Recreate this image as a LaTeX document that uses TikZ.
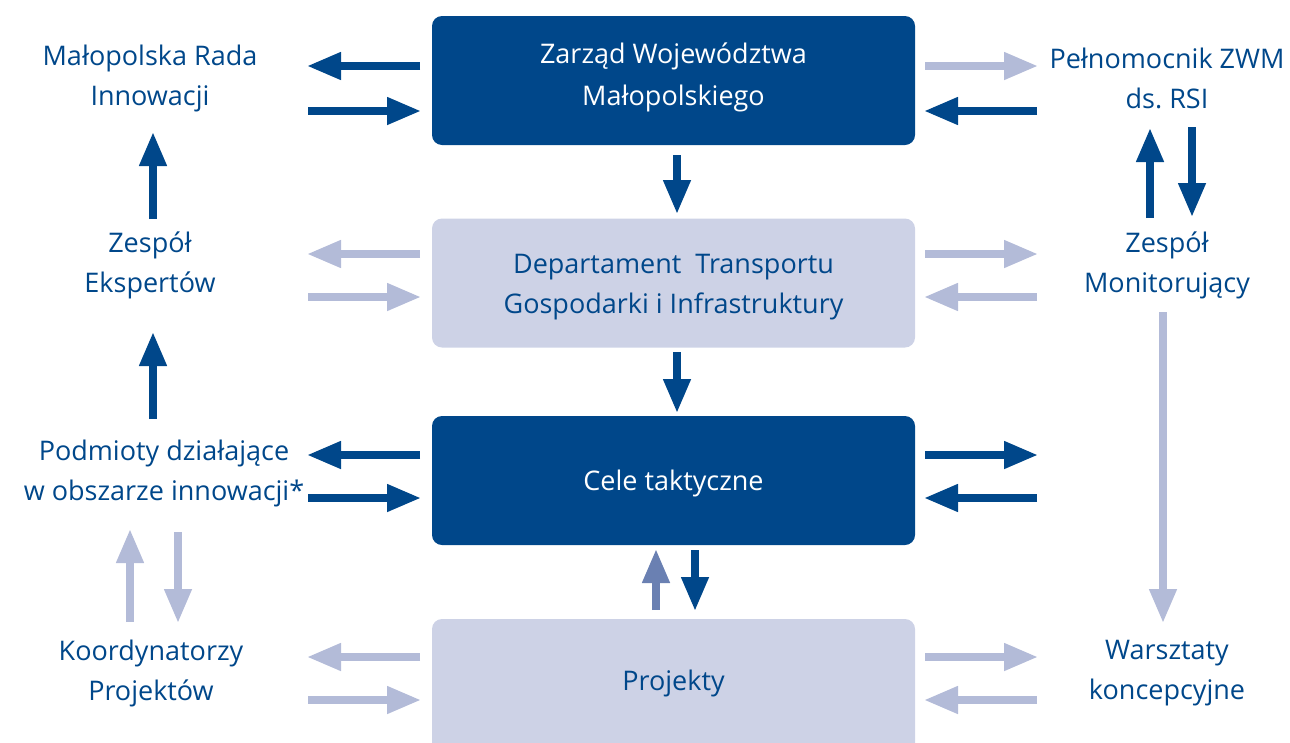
\documentclass[tikz,border=0pt]{standalone}
\usepackage{fontspec}
\setmainfont{Open Sans}
\frenchspacing
\usetikzlibrary{arrows.meta}
\definecolor{dblue}{HTML}{00478A}
\definecolor{lblue}{HTML}{B3BBD8}
\definecolor{lbox}{HTML}{CDD2E6}
\definecolor{mblue}{HTML}{6A80B2}
\begin{document}
\begin{tikzpicture}[x=1pt,y=-1pt,
  box/.style={rounded corners=10pt, minimum width=483pt, minimum height=129pt, inner sep=0pt},
  darkbox/.style={box, fill=dblue},
  lightbox/.style={box, fill=lbox},
  txt/.style={align=center, font=\fontsize{27}{40}\selectfont},
  wtxt/.style={txt, text=white},
  lbl/.style={txt, text=dblue},
  arr/.style={line width=7.5pt, -{Triangle[length=34pt,width=26pt]}, shorten >=-1pt},
  da/.style={arr, draw=dblue},
  la/.style={arr, draw=lblue},
  ma/.style={arr, draw=mblue}]
\useasboundingbox (0,0) rectangle (1290,742);
\clip (0,0) rectangle (1290,742);
% boxes
\node[darkbox] (zarz) at (673.5,80.5) {};
\node[wtxt, font=\fontsize{27}{42}\selectfont] (zarzt) at (673.5,77) {Zarząd Województwa\\Małopolskiego};
\node[lightbox] (dep) at (673.5,283) {};
\node[lbl] (dept) at (673.5,287) {Departament\ \ Transportu\\Gospodarki i Infrastruktury};
\node[darkbox] (cele) at (673.5,480.5) {};
\node[wtxt] (celet) at (673.5,483) {Cele taktyczne};
\node[lightbox, minimum height=140pt] (proj) at (673.5,689) {};
\node[lbl] (projt) at (673.5,683) {Projekty};
% labels
\node[lbl] (mri) at (150,78) {Małopolska Rada\\Innowacji};
\node[lbl] (ze) at (150,265) {Zespół\\Ekspertów};
\node[lbl] (pod) at (164,473) {Podmioty działające\\w obszarze innowacji*};
\node[lbl] (kp) at (151,673) {Koordynatorzy\\Projektów};
\node[lbl] (pel) at (1167,78) {Pełnomocnik ZWM\\ds. RSI};
\node[lbl] (zm) at (1167,265) {Zespół\\Monitorujący};
\node[lbl] (wk) at (1167,673) {Warsztaty\\koncepcyjne};
% coordinates for arrow ends
\foreach \n/\y in {a/66,b/111,c/254,d/297,e/455,f/498,g/657,h/700}{
  \coordinate (L1\n) at (308,\y);
  \coordinate (L2\n) at (420,\y);
  \coordinate (R1\n) at (925,\y);
  \coordinate (R2\n) at (1037,\y);
}
% left horizontal
\draw[da] (L2a) -- (L1a);
\draw[da] (L1b) -- (L2b);
\draw[la] (L2c) -- (L1c);
\draw[la] (L1d) -- (L2d);
\draw[da] (L2e) -- (L1e);
\draw[da] (L1f) -- (L2f);
\draw[la] (L2g) -- (L1g);
\draw[la] (L1h) -- (L2h);
% right horizontal
\draw[la] (R1a) -- (R2a);
\draw[da] (R2b) -- (R1b);
\draw[la] (R1c) -- (R2c);
\draw[la] (R2d) -- (R1d);
\draw[da] (R1e) -- (R2e);
\draw[da] (R2f) -- (R1f);
\draw[la] (R1g) -- (R2g);
\draw[la] (R2h) -- (R1h);
% center vertical
\coordinate (v1a) at (677,155); \coordinate (v1b) at (677,213);
\coordinate (v2a) at (677,352); \coordinate (v2b) at (677,412);
\coordinate (v3a) at (656,610); \coordinate (v3b) at (656,550);
\coordinate (v4a) at (695,550); \coordinate (v4b) at (695,610);
\draw[da] (v1a) -- (v1b);
\draw[da] (v2a) -- (v2b);
\draw[ma] (v3a) -- (v3b);
\draw[da] (v4a) -- (v4b);
% left column vertical
\coordinate (c1a) at (153,219); \coordinate (c1b) at (153,133);
\coordinate (c2a) at (153,419); \coordinate (c2b) at (153,333);
\coordinate (c3a) at (130,622); \coordinate (c3b) at (130,530);
\coordinate (c4a) at (178,532); \coordinate (c4b) at (178,622);
\draw[da] (c1a) -- (c1b);
\draw[da] (c2a) -- (c2b);
\draw[la] (c3a) -- (c3b);
\draw[la] (c4a) -- (c4b);
% right column vertical
\coordinate (r1a) at (1150,218); \coordinate (r1b) at (1150,129);
\coordinate (r2a) at (1192,127); \coordinate (r2b) at (1192,216);
\coordinate (r3a) at (1163,312); \coordinate (r3b) at (1163,622);
\draw[da] (r1a) -- (r1b);
\draw[da] (r2a) -- (r2b);
\draw[la] (r3a) -- (r3b);
\end{tikzpicture}
\end{document}
